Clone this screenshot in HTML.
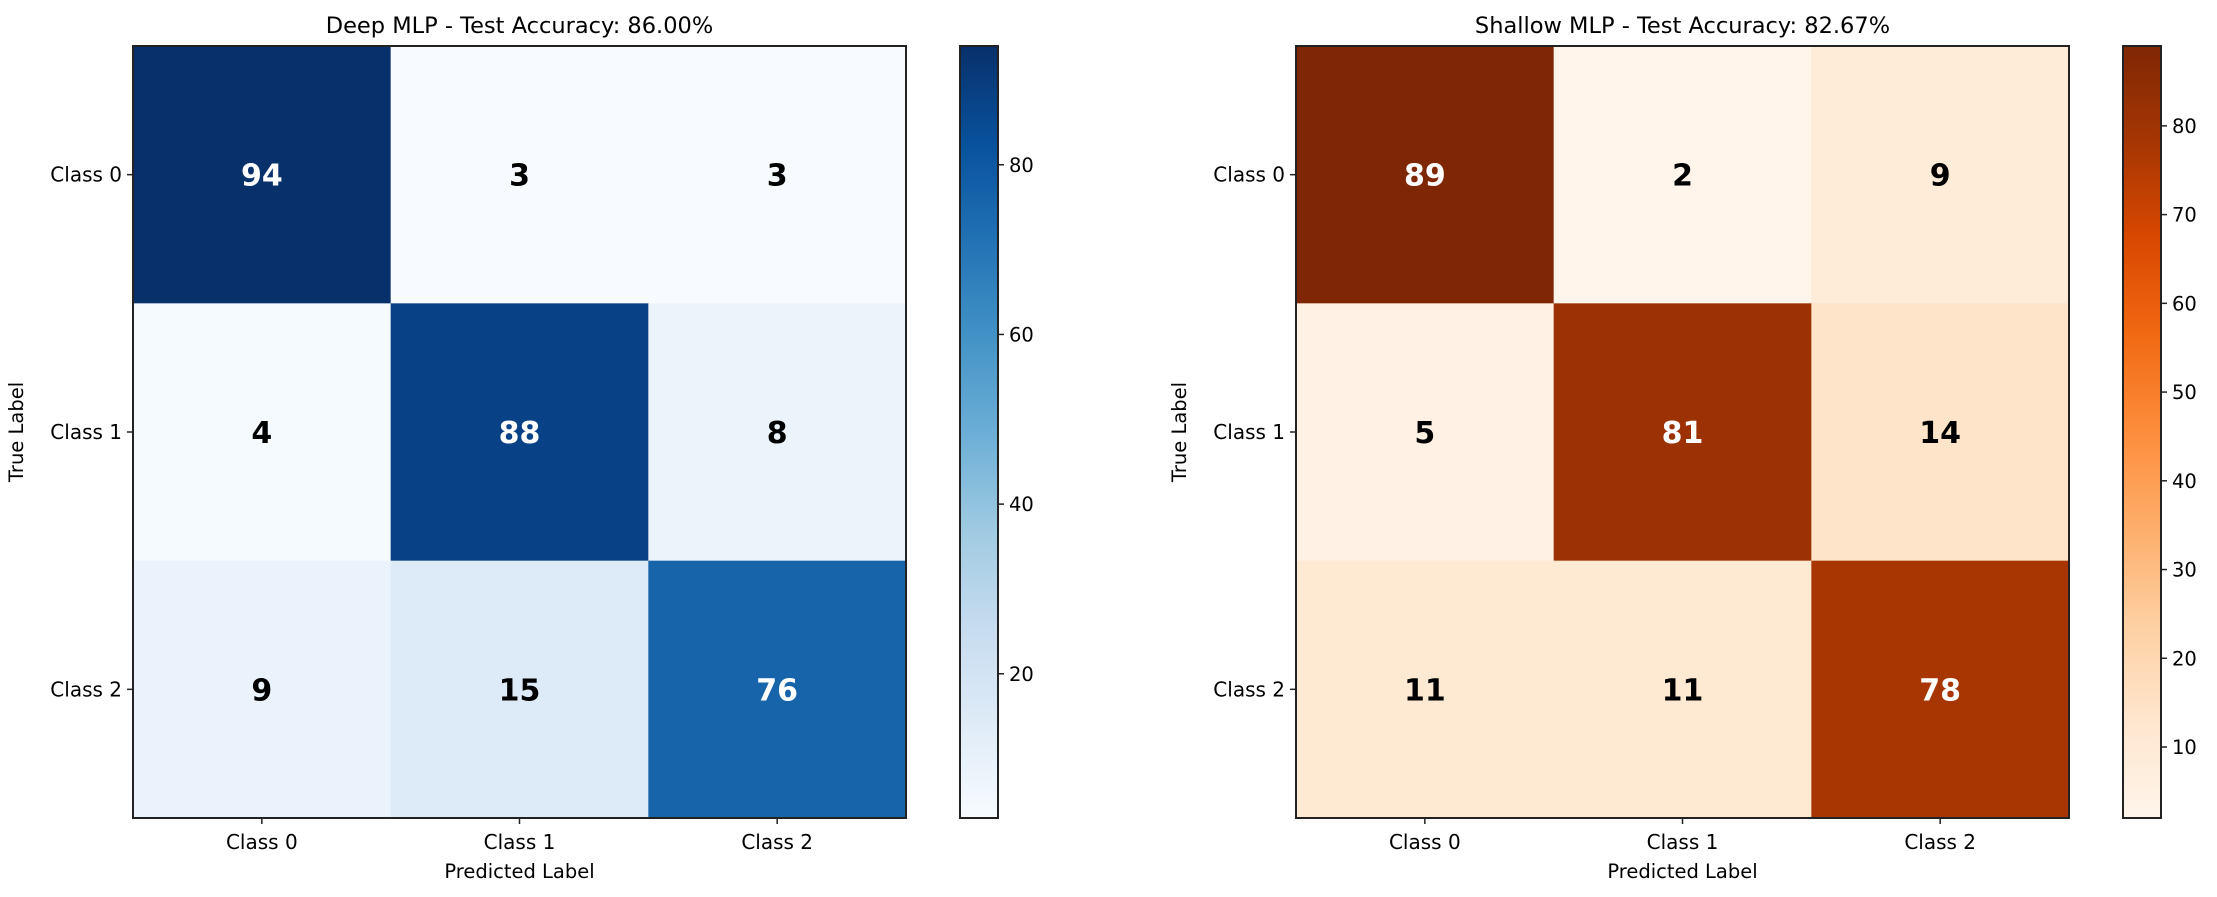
<!DOCTYPE html>
<html><head><meta charset="utf-8">
<style>
html,body{margin:0;padding:0;background:#fff;}
svg{display:block;font-family:"DejaVu Sans","Liberation Sans",sans-serif;}
</style></head>
<body>
<svg id="fig" width="2217" height="897" viewBox="0 0 2217 897" xmlns="http://www.w3.org/2000/svg"></svg>
<script>
const classes = ["Class 0","Class 1","Class 2"];
const deepValues = [[94,3,3],[4,88,8],[9,15,76]];
const shallowValues = [[89,2,9],[5,81,14],[11,11,78]];
const deepTitle = "Deep MLP - Test Accuracy: 86.00%";
const shallowTitle = "Shallow MLP - Test Accuracy: 82.67%";
const deepTicks = [20,40,60,80];
const shallowTicks = [10,20,30,40,50,60,70,80];
const blues = ['#f7fbff','#deebf7','#c6dbef','#9ecae1','#6baed6','#4292c6','#2171b5','#08519c','#08306b'];
const oranges = ['#fff5eb','#fee6ce','#fdd0a2','#fdae6b','#fd8d3c','#f16913','#d94801','#a63603','#7f2704'];

const NS = "http://www.w3.org/2000/svg";
const svg = document.getElementById('fig');
function mk(tag, attrs, parent){
  const e = document.createElementNS(NS, tag);
  for (const k in attrs) e.setAttribute(k, attrs[k]);
  (parent||svg).appendChild(e);
  return e;
}
function hex2rgb(h){return [parseInt(h.slice(1,3),16),parseInt(h.slice(3,5),16),parseInt(h.slice(5,7),16)];}
function cmap(stops, t){
  t = Math.max(0, Math.min(1, t));
  const p = t*(stops.length-1), i = Math.min(Math.floor(p), stops.length-2), f = p-i;
  const a = hex2rgb(stops[i]), b = hex2rgb(stops[i+1]);
  return 'rgb('+a.map((v,k)=>Math.round(v+(b[k]-v)*f)).join(',')+')';
}

function drawPanel(opt){
  const {x0, vals, stops, title, ticks, key, cbx, ylabX} = opt;
  const y0 = 46, W = 773, H = 772, n = classes.length;
  const cw = W/n, ch = H/n;
  const flat = vals.flat();
  const vmin = Math.min(...flat), vmax = Math.max(...flat);
  const g = mk('g', {});
  
  
  const xs = j => x0 + j*cw;
  const ys = i => y0 + i*ch;
  const norm = v => (v - vmin)/(vmax - vmin);
  for (let i=0;i<n;i++) for (let j=0;j<n;j++){
    const v = vals[i][j];
    const r = mk('rect', {x:xs(j), y:ys(i), width:cw+0.5, height:ch+0.5, fill:cmap(stops, norm(v))}, g);
    
    
    const t = mk('text', {x:xs(j)+cw/2, y:ys(i)+ch/2+11, 'text-anchor':'middle', 'font-size':30, 'font-weight':'bold', fill: v > vmax/2 ? '#fff' : '#000'}, g);
    t.textContent = v;
    
    
  }
  const fr = mk('rect', {x:x0, y:y0, width:W, height:H, fill:'none', stroke:'#222', 'stroke-width':2}, g);
  
  
  classes.forEach((c, k) => {
    const cx = xs(k)+cw/2, cy = ys(k)+ch/2;
    mk('line', {x1:cx, y1:y0+H, x2:cx, y2:y0+H+6, stroke:'#222', 'stroke-width':1.5}, g);
    const tx = mk('text', {x:cx, y:y0+H+31, 'text-anchor':'middle', 'font-size':20}, g);
    tx.textContent = c;
    
    
    mk('line', {x1:x0-6, y1:cy, x2:x0, y2:cy, stroke:'#222', 'stroke-width':1.5}, g);
    const ty = mk('text', {x:x0-11, y:cy+7, 'text-anchor':'end', 'font-size':20}, g);
    ty.textContent = c;
    
    
  });
  const tt = mk('text', {x:x0+W/2, y:33, 'text-anchor':'middle', 'font-size':22.5}, g);
  tt.textContent = title;
  
  
  const xl = mk('text', {x:x0+W/2, y:878, 'text-anchor':'middle', 'font-size':19.5}, g);
  xl.textContent = 'Predicted Label';
  
  
  const yl = mk('text', {x:ylabX, y:y0+H/2, 'text-anchor':'middle', 'font-size':19.5, transform:'rotate(-90 '+ylabX+' '+(y0+H/2)+')'}, g);
  yl.textContent = 'True Label';
  
  
  const cbw = 38;
  const defs = mk('defs', {}, g);
  const lg = mk('linearGradient', {id:key+'-grad', x1:0, y1:1, x2:0, y2:0}, defs);
  stops.forEach((s, k) => mk('stop', {offset:k/(stops.length-1), 'stop-color':s}, lg));
  const cb = mk('rect', {x:cbx, y:y0, width:cbw, height:H, fill:'url(#'+key+'-grad)', stroke:'#222', 'stroke-width':2}, g);
  
  
  const cy = v => y0 + H - norm(v)*H;
  ticks.forEach(v => {
    mk('line', {x1:cbx+cbw, y1:cy(v), x2:cbx+cbw+6, y2:cy(v), stroke:'#222', 'stroke-width':1.5}, g);
    const l = mk('text', {x:cbx+cbw+11, y:cy(v)+7, 'font-size':19.5}, g);
    l.textContent = v;
    
    
  });
}
drawPanel({x0:133, vals:deepValues, stops:blues, title:deepTitle, ticks:deepTicks, key:'deep', cbx:960, ylabX:23});
drawPanel({x0:1296, vals:shallowValues, stops:oranges, title:shallowTitle, ticks:shallowTicks, key:'shallow', cbx:2123, ylabX:1186});
</script>
</body></html>
